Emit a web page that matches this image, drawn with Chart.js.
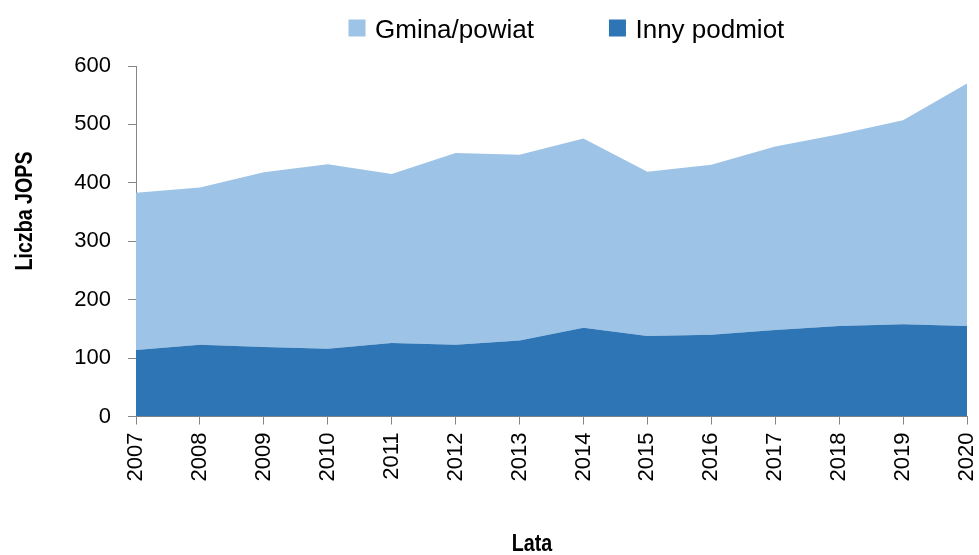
<!DOCTYPE html>
<html lang="pl">
<head>
<meta charset="utf-8">
<title>Liczba JOPS</title>
<script src="https://cdn.jsdelivr.net/npm/chart.js@4/dist/chart.umd.min.js"></script>
<style>
  html, body { margin: 0; padding: 0; background: #ffffff; }
  #wrap { position: relative; width: 979px; height: 555px; }
</style>
</head>
<body>
<div id="wrap"><canvas id="chart"></canvas></div>
<script>
// Lata
const years = ['2007', '2008', '2009', '2010', '2011', '2012', '2013',
               '2014', '2015', '2016', '2017', '2018', '2019', '2020'];
// Inny podmiot (dolna warstwa)
const innyPodmiot = [114, 123, 119, 116, 126, 123, 130, 152, 138, 140, 148, 155, 158, 155];
// Gmina/powiat (warstwa nad nią)
const gminaPowiat = [269, 269, 299, 316, 289, 328, 318, 324, 281, 291, 314, 328, 349, 415];
// Oś Y
const yMin = 0;
const yMax = 600;
const yStep = 100;

const seriesLabels = ['Inny podmiot', 'Gmina/powiat'];
const DARK = '#2E75B6';
const LIGHT = '#9DC3E6';
const AXIS = '#868686';
const FONT = '"Liberation Sans", Arial, sans-serif';

// Legend and axis titles drawn on the canvas
const titlesAndLegend = {
  id: 'titlesAndLegend',
  afterDraw(chart) {
    const ctx = chart.ctx;
    ctx.save();
    ctx.fillStyle = '#000000';

    // legend: Gmina/powiat first, then Inny podmiot
    const order = [1, 0];
    const box = 17;
    let x = 348.5;
    ctx.font = '26px ' + FONT;
    ctx.textAlign = 'left';
    ctx.textBaseline = 'alphabetic';
    order.forEach((i) => {
      const ds = chart.data.datasets[i];
      ctx.fillStyle = ds.backgroundColor;
      ctx.fillRect(x, 19.5, box, box);
      ctx.fillStyle = '#000000';
      const tx = x + box + 9.5;
      ctx.fillText(ds.label, tx, 38);
      x = tx + ctx.measureText(ds.label).width + 75;
    });

    // axis titles (condensed bold)
    ctx.font = 'bold 24px ' + FONT;
    ctx.textAlign = 'center';

    ctx.save();
    ctx.translate(532, 551);
    ctx.scale(0.82, 1);
    ctx.fillText('Lata', 0, 0);
    ctx.restore();

    ctx.save();
    ctx.translate(31.5, 211);
    ctx.rotate(-Math.PI / 2);
    ctx.scale(0.82, 1);
    ctx.fillText('Liczba JOPS', 0, 0);
    ctx.restore();

    ctx.restore();
  }
};

new Chart(document.getElementById('chart'), {
  type: 'line',
  data: {
    labels: years,
    datasets: [
      {
        label: seriesLabels[0],
        data: innyPodmiot,
        backgroundColor: DARK,
        borderColor: DARK,
        borderWidth: 0,
        pointRadius: 0,
        fill: 'origin',
        tension: 0
      },
      {
        label: seriesLabels[1],
        data: gminaPowiat,
        backgroundColor: LIGHT,
        borderColor: LIGHT,
        borderWidth: 0,
        pointRadius: 0,
        fill: '-1',
        tension: 0
      }
    ]
  },
  options: {
    responsive: true,
    maintainAspectRatio: false,
    animation: false,
    layout: { padding: { top: 66, right: 12, bottom: 0, left: 0 } },
    plugins: {
      legend: { display: false },
      tooltip: { enabled: false },
      title: { display: false }
    },
    scales: {
      x: {
        offset: false,
        grid: { drawOnChartArea: false, drawTicks: true, tickLength: 8, color: AXIS, lineWidth: 1 },
        border: { color: AXIS, width: 1 },
        ticks: {
          autoSkip: false,
          maxRotation: 90,
          minRotation: 90,
          padding: 8,
          color: '#000000',
          font: { family: FONT, size: 22 }
        },
        afterFit(scale) {
          scale.height = 138.5;
          scale.paddingLeft = 0;
          scale.paddingRight = 0;
        }
      },
      y: {
        stacked: true,
        min: yMin,
        max: yMax,
        grid: { drawOnChartArea: false, drawTicks: true, tickLength: 8, color: AXIS, lineWidth: 1 },
        border: { color: AXIS, width: 1 },
        ticks: {
          stepSize: yStep,
          padding: 17,
          color: '#000000',
          font: { family: FONT, size: 22 }
        },
        afterFit(scale) {
          scale.width = 136;
          scale.paddingTop = 0;
          scale.paddingBottom = 0;
        }
      }
    }
  },
  plugins: [titlesAndLegend]
});
</script>
</body>
</html>
